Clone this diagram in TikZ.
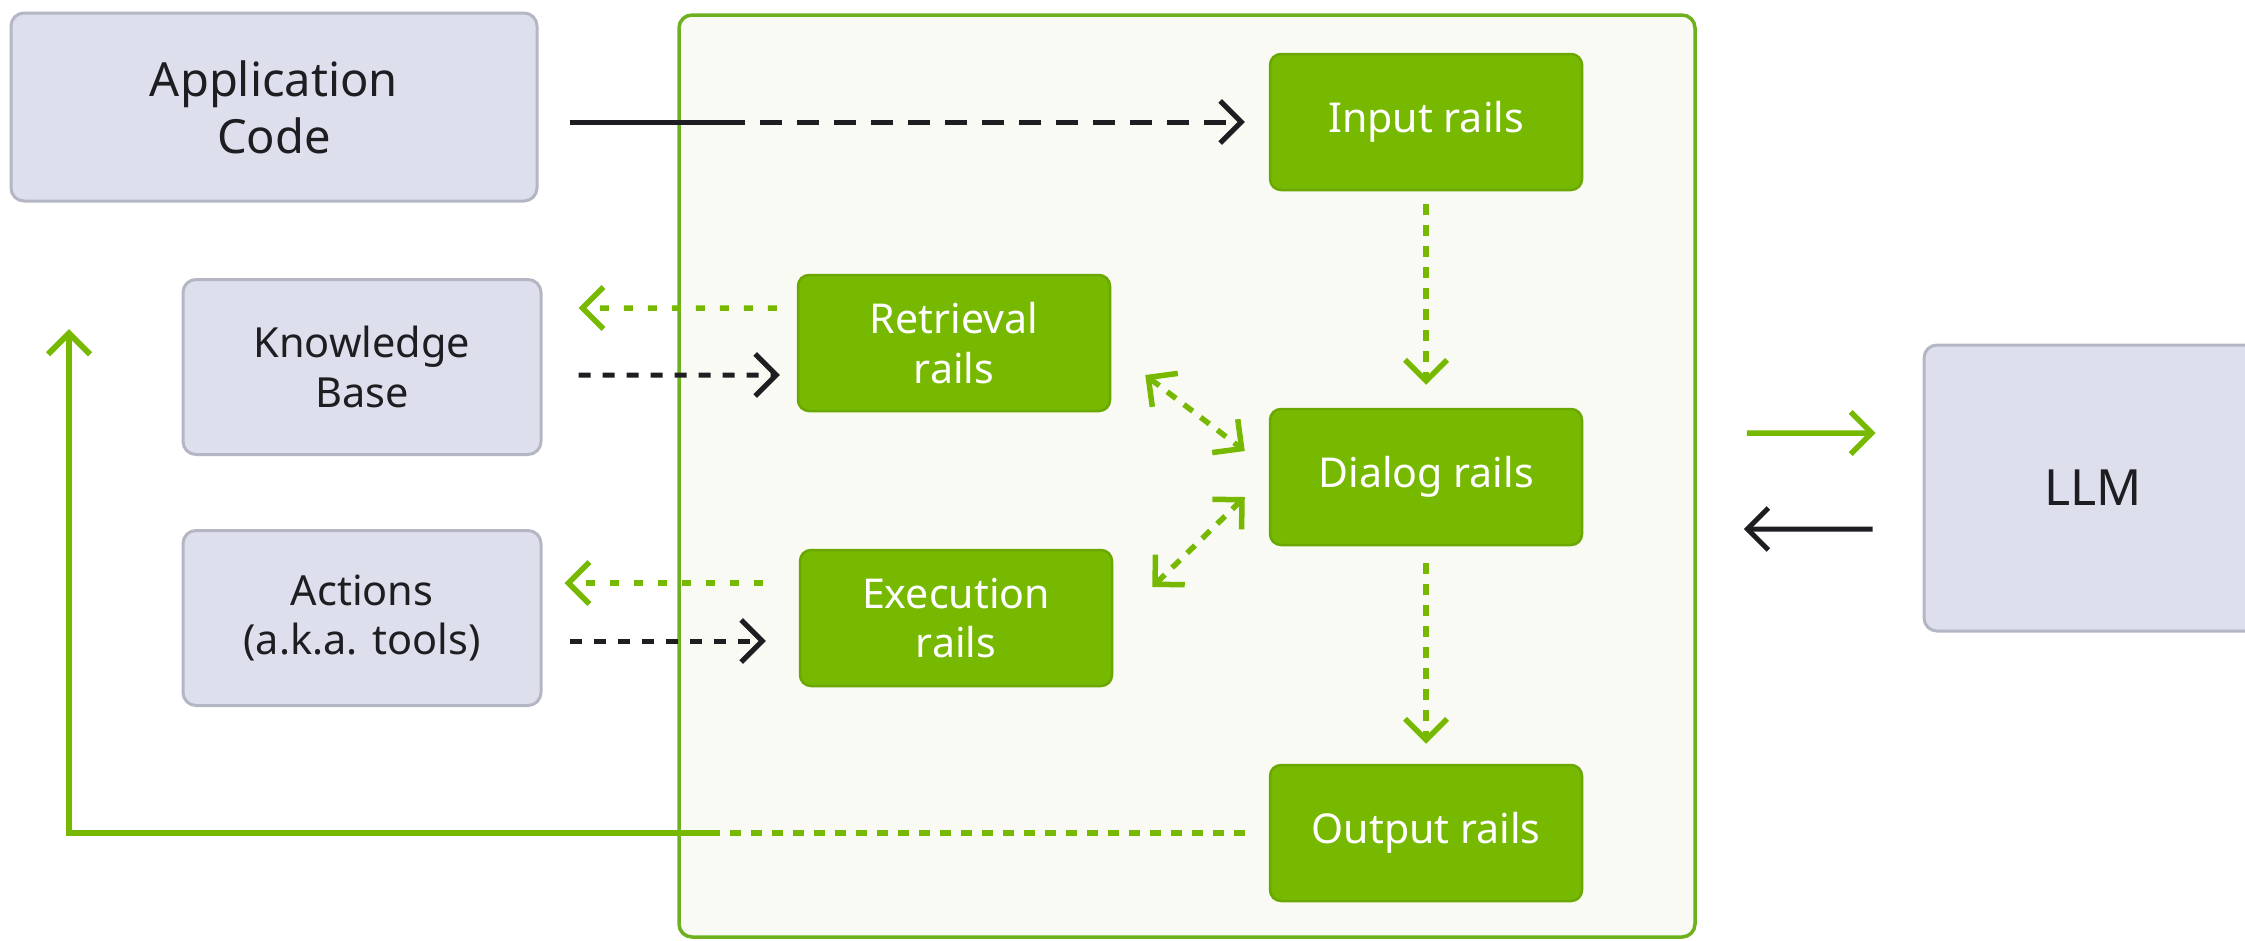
\documentclass[tikz,border=0pt]{standalone}
\usepackage{fontspec}
\setmainfont{Noto Sans}
\usetikzlibrary{arrows.meta}

\definecolor{nvgreen}{HTML}{76B900}
\definecolor{nvedge}{HTML}{6AA800}
\definecolor{panelfill}{HTML}{F9FAF3}
\definecolor{paneledge}{HTML}{6DB21E}
\definecolor{greyfill}{HTML}{DDDFEC}
\definecolor{greyedge}{HTML}{B4B6C4}
\definecolor{ink}{HTML}{1E1E22}

\begin{document}
\begin{tikzpicture}[x=0.1mm,y=-0.1mm,
  greybox/.style={draw=greyedge, line width=0.3mm, fill=greyfill,
    rounded corners=1.3mm, text=ink, align=center, inner sep=0pt,
    font=\fontsize{11.8pt}{14pt}\selectfont},
  bigtext/.style={font=\fontsize{13.4pt}{16.3pt}\selectfont},
  railbox/.style={draw=nvedge, line width=0.25mm, fill=nvgreen,
    rounded corners=1.1mm, text=white, align=center, inner sep=0pt,
    font=\fontsize{11.7pt}{14pt}\selectfont,
    minimum width=31.2mm, minimum height=13.6mm},
  barb/.style={-{Straight Barb[length=2.1mm,width=4.2mm]}},
  barbs/.style={{Straight Barb[length=2.1mm,width=4.2mm]}-{Straight Barb[length=2.1mm,width=4.2mm]}},
  blackline/.style={draw=ink, line width=0.5mm},
  greenline/.style={draw=nvgreen, line width=0.55mm},
  longdash/.style={dash pattern=on 2.2mm off 1.5mm},
  blackdash/.style={dash pattern=on 1.2mm off 1.2mm},
  greendash/.style={dash pattern=on 0.9mm off 1.5mm},
  finedash/.style={dash pattern=on 1.1mm off 1.0mm},
]

% canvas
\fill[white] (0,0) rectangle (2245,940);
\useasboundingbox (0,0) rectangle (2245,940);

% guardrails panel
\node[draw=paneledge, line width=0.35mm, fill=panelfill, rounded corners=1.3mm,
      minimum width=101.6mm, minimum height=92.2mm, inner sep=0pt]
      (panel) at (1187,476) {};

% external components
\node[greybox, bigtext, minimum width=52.6mm, minimum height=18.8mm]
      (app) at (274,107) {\raisebox{-0.5mm}{Application}\\\raisebox{-0.5mm}{Code}};
\node[greybox, minimum width=35.8mm, minimum height=17.5mm]
      (kb) at (362,367) {Knowledge\\Base};
\node[greybox, minimum width=35.8mm, minimum height=17.5mm]
      (act) at (362,618) {Actions\\(a.k.a. tools)};
\node[greybox, minimum width=33.8mm, minimum height=28.6mm,
      font=\fontsize{14.2pt}{17pt}\selectfont]
      (llm) at (2093,488) {LLM};

% rails
\node[railbox] (input)  at (1426,122) {Input rails};
\node[railbox] (dialog) at (1426,477) {Dialog rails};
\node[railbox] (output) at (1426,833) {Output rails};
\node[railbox] (retr)   at (954,343)  {Retrieval\\rails};
\node[railbox] (exec)   at (956,618)  {Execution\\rails};

% application code -> input rails
\coordinate (appsplit) at (723,122);
\draw[blackline, shorten <=3.1mm] (app.east |- input.west) -- (appsplit);
\draw[blackline, longdash, barb, shorten >=2.4mm] (appsplit) -- (input.west);

% input -> dialog -> output
\draw[greenline, finedash, barb, shorten <=1.3mm, shorten >=2.3mm]
  (input.south) -- (dialog.north);
\draw[greenline, finedash, barb, shorten <=1.7mm, shorten >=2.0mm]
  (dialog.south) -- (output.north);

% retrieval rails <-> knowledge base
\draw[greenline, greendash, barb]
  ([xshift=-2.0mm,yshift=3.5mm]retr.west) -- ([xshift=3.6mm,yshift=5.9mm]kb.east);
\draw[blackline, blackdash, barb]
  ([xshift=3.6mm,yshift=-0.8mm]kb.east) -- ([xshift=-1.7mm,yshift=-3.2mm]retr.west);

% execution rails <-> actions
\draw[greenline, greendash, barb]
  ([xshift=-3.6mm,yshift=3.5mm]exec.west) -- ([xshift=2.2mm,yshift=3.5mm]act.east);
\draw[blackline, blackdash, barb]
  ([xshift=2.7mm,yshift=-2.3mm]act.east) -- ([xshift=-3.3mm,yshift=-2.3mm]exec.west);

% dialog rails <-> retrieval / execution rails
\draw[greenline, finedash, barbs]
  ([xshift=3.4mm,yshift=-3.2mm]retr.east) -- ([xshift=-2.4mm,yshift=2.6mm]dialog.west);
\draw[greenline, finedash, barbs]
  ([xshift=3.9mm,yshift=3.1mm]exec.east) -- ([xshift=-2.4mm,yshift=-2.0mm]dialog.west);

% output rails back to the application
\coordinate (outsplit) at (716,833);
\coordinate (outcorner) at (69,833);
\coordinate (apptip) at (69,329);
\draw[greenline, finedash, shorten <=2.4mm] (output.west) -- (outsplit);
\draw[greenline, barb, line width=0.6mm] (outsplit) -- (outcorner) -- (apptip);

% panel <-> LLM
\draw[greenline, barb]
  ([xshift=5.0mm,yshift=4.3mm]panel.east) -- ([xshift=-4.7mm,yshift=5.5mm]llm.west);
\draw[blackline, barb]
  ([xshift=-5.0mm,yshift=-4.1mm]llm.west) -- ([xshift=4.7mm,yshift=-5.3mm]panel.east);

\end{tikzpicture}
\end{document}
